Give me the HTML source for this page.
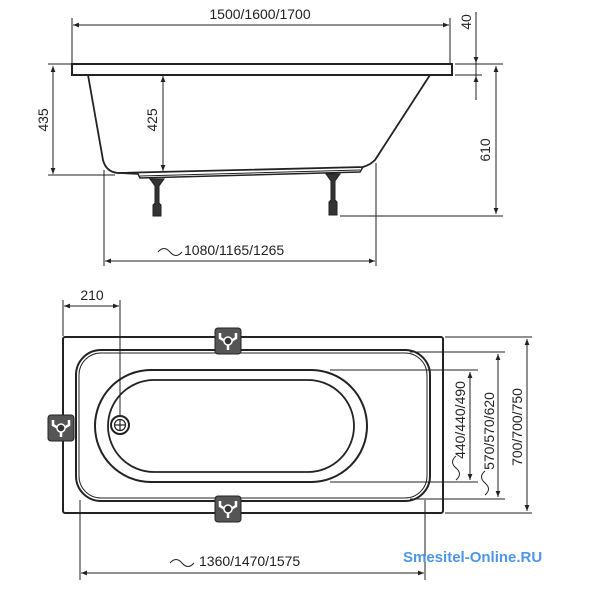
<!DOCTYPE html>
<html><head><meta charset="utf-8"><style>
html,body{margin:0;padding:0;background:#fff;}
svg{display:block;}
text{font-family:"Liberation Sans",sans-serif;font-size:14px;fill:#222;}
</style></head><body>
<svg width="600" height="600" viewBox="0 0 600 600" xmlns="http://www.w3.org/2000/svg">
<defs>
<marker id="a" viewBox="0 0 10 10" refX="10" refY="5" markerWidth="8" markerHeight="6" orient="auto-start-reverse" markerUnits="userSpaceOnUse"><path d="M0,1 L10,5 L0,9 z" fill="#222"/></marker>
<g id="clamp">
<rect x="0" y="0" width="26" height="26" rx="3" fill="#555" stroke="#222" stroke-width="1"/>
<path d="M5,5 L5,10 L10,13 L13,13 L16,13 L21,10 L21,5" fill="none" stroke="#fff" stroke-width="2.5"/>
<line x1="13" y1="13" x2="13" y2="22" stroke="#fff" stroke-width="2.5"/>
<circle cx="13" cy="13" r="4" fill="#333" stroke="#fff" stroke-width="1.5"/>
</g>
</defs>
<g stroke="#222" stroke-width="1" fill="none">
<!-- SIDE VIEW -->
<line x1="72" y1="18" x2="72" y2="64"/>
<line x1="450" y1="18" x2="450" y2="64"/>
<line x1="73" y1="25" x2="449" y2="25" marker-start="url(#a)" marker-end="url(#a)"/>
<rect x="72" y="64" width="380" height="11" stroke-width="2"/>
<path d="M88,75 L103,160 Q106,172 118,173 L363,167 Q370,165 375,160 L430,75" stroke-width="1.8"/>
<path d="M118,173 L138,174 L140,178 L360,172 L363,167" stroke-width="1.5"/>
<line x1="140" y1="176" x2="360" y2="170" stroke-width="1"/>
<!-- legs -->
<g fill="#333" stroke="#222">
<path d="M150,179 L164,179 L159,186 L159,203 L161,205 L161,216 L153,216 L153,205 L155,203 L155,186 z"/>
<path d="M326,174 L340,174 L335,181 L335,200 L337,202 L337,215 L329,215 L329,202 L331,200 L331,181 z"/>
</g>
<line x1="48" y1="64" x2="72" y2="64"/>
<line x1="48" y1="175" x2="115" y2="175"/>
<line x1="53" y1="66" x2="53" y2="174" marker-start="url(#a)" marker-end="url(#a)"/>
<line x1="163" y1="76" x2="163" y2="171" marker-start="url(#a)" marker-end="url(#a)"/>
<line x1="455" y1="64" x2="503" y2="64"/>
<line x1="455" y1="75" x2="482" y2="75"/>
<line x1="476" y1="12" x2="476" y2="100"/>
<line x1="476" y1="50" x2="476" y2="63" marker-end="url(#a)"/>
<line x1="476" y1="90" x2="476" y2="76" marker-end="url(#a)"/>
<line x1="496" y1="66" x2="496" y2="214" marker-start="url(#a)" marker-end="url(#a)"/>
<line x1="340" y1="216" x2="503" y2="216"/>
<line x1="104" y1="170" x2="104" y2="266"/>
<line x1="376" y1="163" x2="376" y2="266"/>
<line x1="105" y1="261" x2="375" y2="261" marker-start="url(#a)" marker-end="url(#a)"/>
<path d="M158,252 q6,-7 12,0 t12,0"/>
<!-- TOP VIEW -->
<line x1="63" y1="300" x2="63" y2="336"/>
<line x1="120" y1="300" x2="120" y2="415"/>
<line x1="64" y1="306" x2="119" y2="306" marker-start="url(#a)" marker-end="url(#a)"/>
<rect x="63" y="337" width="380" height="176" rx="2" stroke-width="2"/>
<rect x="76" y="350" width="354" height="151" rx="25" stroke-width="2"/>
<rect x="79" y="353" width="348" height="145" rx="22" stroke-width="1"/>
<rect x="95" y="370" width="272" height="112" rx="56" stroke-width="2"/>
<rect x="108" y="380" width="246" height="92" rx="46" stroke-width="1.8"/>
<circle cx="120" cy="425" r="9" stroke-width="2"/>
<circle cx="120" cy="425" r="5.5" stroke-width="1.2"/>
<line x1="114.5" y1="425" x2="125.5" y2="425" stroke-width="1.2"/>
<line x1="120" y1="419.5" x2="120" y2="430.5" stroke-width="1.2"/>
<line x1="330" y1="370" x2="478" y2="370"/>
<line x1="330" y1="482" x2="478" y2="482"/>
<line x1="470" y1="372" x2="470" y2="480" marker-start="url(#a)" marker-end="url(#a)"/>
<line x1="410" y1="352" x2="505" y2="352"/>
<line x1="410" y1="499" x2="505" y2="499"/>
<line x1="498" y1="354" x2="498" y2="497" marker-start="url(#a)" marker-end="url(#a)"/>
<line x1="445" y1="337" x2="532" y2="337"/>
<line x1="445" y1="513" x2="532" y2="513"/>
<line x1="527" y1="339" x2="527" y2="511" marker-start="url(#a)" marker-end="url(#a)"/>
<line x1="80" y1="500" x2="80" y2="580"/>
<line x1="425" y1="500" x2="425" y2="580"/>
<line x1="81" y1="573" x2="424" y2="573" marker-start="url(#a)" marker-end="url(#a)"/>
<path d="M170,563 q6,-7 12,0 t12,0"/>
</g>
<use href="#clamp" x="215" y="328"/>
<use href="#clamp" x="215" y="496"/>
<use href="#clamp" x="48" y="415"/>
<text x="260" y="19" text-anchor="middle">1500/1600/1700</text>
<text transform="translate(48,120) rotate(-90)" text-anchor="middle">435</text>
<text transform="translate(157,120) rotate(-90)" text-anchor="middle">425</text>
<text transform="translate(471,22) rotate(-90)" text-anchor="middle">40</text>
<text transform="translate(490,150) rotate(-90)" text-anchor="middle">610</text>
<text x="184" y="255">1080/1165/1265</text>
<text x="92" y="300" text-anchor="middle">210</text>
<text transform="translate(465,420) rotate(-90)" text-anchor="middle">440/440/490</text>
<text transform="translate(494,431) rotate(-90)" text-anchor="middle">570/570/620</text>
<text transform="translate(522,427) rotate(-90)" text-anchor="middle">700/700/750</text>
<path d="M456,480 q7,-6 0,-12 t0,-12" stroke="#222" fill="none"/>
<path d="M485,495 q7,-6 0,-12 t0,-12" stroke="#222" fill="none"/>
<text x="199" y="566">1360/1470/1575</text>
<text x="403" y="562" style="font-weight:bold;fill:#4f96e8;font-size:15px">Smesitel-Online.RU</text>
</svg>
</body></html>
